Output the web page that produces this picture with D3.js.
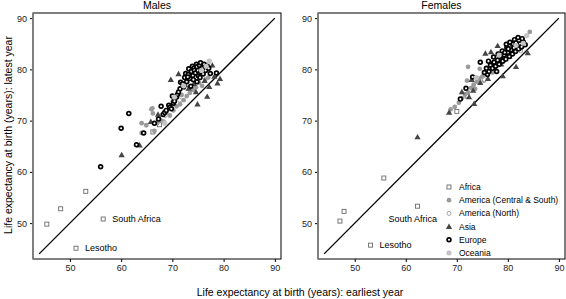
<!DOCTYPE html>
<html lang="en">
<head>
<meta charset="UTF-8">
<title>Life expectancy: earliest vs latest year</title>
<style>
    body { margin: 0; background: #fff; }
    svg { display: block; font-family: "Liberation Sans", Arial, sans-serif; }
</style>
</head>
<body>
<script src="https://d3js.org/d3.v7.min.js"></script>
<script>
const regions = ['Africa', 'America (Central & South)', 'America (North)', 'Asia', 'Europe', 'Oceania']
const tickValues = [50, 60, 70, 80, 90]
const panelTitles = ['Males', 'Females']

// each point: [earliest year, latest year]
const maleAfrica = [[45.5, 49.8], [48.2, 52.8], [53.1, 56.2], [56.5, 50.8], [51.2, 45.1], [66.2, 67.8], [67.5, 69.2]]
const maleCentralSouth = [[64, 67.6], [64.9, 69.1], [66.1, 72.4], [66.2, 71.4], [64, 69.5], [65.9, 72.2],
    [66.5, 68], [67, 69.5], [67.8, 70], [68.3, 69.8], [68.8, 71.5], [69.5, 71], [70.2, 72], [70.8, 72.8],
    [71.5, 73.2], [72.2, 74], [72.8, 74.8], [73.4, 75.4], [74, 76], [74.6, 76.5], [75.2, 77.4],
    [75.8, 76.8], [76.4, 78], [77, 78.4], [73, 76.3], [71.8, 75]]
const maleNorth = [[68.6, 71], [69.8, 72.6], [71.4, 74], [72.6, 76.4]]
const maleAsia = [[60.1, 63.3], [63.6, 65.2], [65.8, 69.8], [67.2, 71.2], [69.7, 78], [71.2, 79.1],
    [72.5, 77], [73.2, 76.3], [74.2, 77.2], [74.9, 73.2], [76.8, 74.7], [76.3, 77.8], [77.2, 76.6],
    [78.2, 78.6], [79.3, 78.2], [77.8, 80.8], [75.4, 80.6], [70.2, 74.2], [74.6, 75.6], [78.8, 77.3]]
const maleEurope = [[56, 61], [60, 68.5], [61.5, 71.4], [63, 65.3], [64.4, 67.6],
    [66.5, 69.5], [67.3, 70.3], [67.8, 72.8], [68.2, 71.2], [68.5, 71.6], [68.8, 72], [69.3, 73],
    [69.5, 72.6], [69.8, 72.3], [70, 74.8], [70.2, 73.4], [70.4, 73.8], [70.8, 74.6], [71, 75.1],
    [71.2, 75.6], [71.6, 77.5], [71.5, 76.2], [72, 77.2], [72.2, 76.6], [72.4, 78.4], [72.6, 79.2],
    [72.8, 77.6], [73.1, 79], [73.2, 80.1], [73.4, 78.2], [73.7, 79.6], [73.9, 80.6], [74, 78.8],
    [74.2, 80.2], [74.3, 79.8], [74.5, 79.3], [74.7, 81], [74.8, 80.5], [75, 79.8], [75.1, 78.7],
    [75.3, 80.8], [75.5, 81.3], [75.6, 79.6], [75.9, 80.3], [76, 79.1], [76.2, 81], [76.4, 80.4],
    [76.5, 79.8], [76.8, 80.6], [77.1, 80.2], [77.4, 79.2], [78.6, 79.3], [73.6, 76.7], [74.8, 77.6],
    [73, 78.5], [74.1, 78], [75.4, 78.4]]
const maleOceania = [[70.4, 74.6], [72.2, 76.8], [76.6, 80.6], [77.2, 81.6], [75.7, 79.8], [68.5, 69.5]]

const femaleAfrica = [[47.1, 50.4], [47.9, 52.3], [55.7, 58.8], [62.3, 53.3], [53.1, 45.7], [70, 71.8], [72, 74.8]]
const femaleCentralSouth = [[68.8, 72.2], [69.6, 72.7], [70.4, 73.5], [71, 74.4], [71.6, 75.1],
    [72.2, 75.5], [72.8, 76.4], [73.3, 77], [73.9, 77.6], [74.4, 78.2], [75, 78.6], [75.6, 79.2],
    [76.2, 79.8], [76.8, 80.4], [77.4, 81], [78, 80.8], [78.6, 81.6], [79.2, 82.2], [72, 77.8],
    [74.5, 80.1], [72.2, 80.5], [84.3, 87.3], [73.6, 76.2], [75.3, 77.8], [77, 79.4]]
const femaleNorth = [[75.4, 78], [77.5, 80.4], [79.2, 81.7], [82.5, 83.6]]
const femaleAsia = [[62.3, 66.8], [68.5, 71.6], [71, 75.6], [72.4, 74.6], [73.2, 75.9], [73.4, 73.3],
    [72.9, 78], [75.6, 83.1], [76.7, 83.4], [78, 84.6], [79, 78.7], [81.6, 80.5], [83.9, 83.2],
    [80.3, 82.5], [77.3, 80.6], [78.7, 81], [82.3, 84.2], [74.6, 77.4], [76.1, 78.2], [80.8, 84.8]]
const femaleEurope = [[70.7, 74.2], [73.1, 78.5], [74.6, 81.4], [76.9, 81.1], [76, 79], [71.8, 76.3],
    [75.4, 79.4], [75.8, 80.2], [76.3, 79.6], [76.6, 80.8], [77, 80.2], [77.3, 81.4], [77.6, 80.6],
    [78, 81.8], [78.3, 81], [78.6, 82.4], [79, 81.6], [79.3, 82.8], [79.6, 82], [80, 83.3],
    [80.3, 82.5], [80.6, 83.8], [80.9, 83], [81.2, 84.2], [81.5, 83.5], [81.8, 84.6], [82.1, 84],
    [82.4, 85], [82.7, 84.4], [83, 85.4], [83.4, 84.8], [77.8, 79.6], [79.8, 84.2], [81, 85],
    [77.2, 82.4], [78.1, 83], [78.9, 83.6], [79.7, 84.9], [80.4, 85.3], [81.3, 85.8], [82, 86.2],
    [82.8, 86], [80.1, 84], [81.6, 85.2], [76.2, 81.6], [78.4, 82.6], [79.4, 83.3]]
const femaleOceania = [[81.6, 84.7], [83, 85.1], [83.7, 86.6], [78.3, 82.8], [73.8, 78.4]]

const maleData = [maleAfrica, maleCentralSouth, maleNorth, maleAsia, maleEurope, maleOceania]
const femaleData = [femaleAfrica, femaleCentralSouth, femaleNorth, femaleAsia, femaleEurope, femaleOceania]

// labelled points: [panel, earliest, latest, name]
const labelled = [
    [0, 56.5, 50.8, 'South Africa'], [0, 51.2, 45.1, 'Lesotho'],
    [1, 62.3, 53.3, 'South Africa'], [1, 53.1, 45.7, 'Lesotho']
]

const width = 566
const height = 299
const panels = [{ left: 33, right: 281 }, { left: 318, right: 565 }]
const plotTop = 13
const plotBottom = 259

const styles = [
    { shape: 'square', fill: '#fff', stroke: '#6a6a6a', sw: 0.9 },
    { shape: 'circle', fill: '#9a9a9a', stroke: 'none', sw: 0, r: 2.4 },
    { shape: 'circle', fill: '#fff', stroke: '#9a9a9a', sw: 0.9, r: 2 },
    { shape: 'triangle', fill: '#454545', stroke: 'none', sw: 0 },
    { shape: 'circle', fill: '#fff', stroke: '#000', sw: 1.7, r: 1.9 },
    { shape: 'circle', fill: '#c4c4c4', stroke: 'none', sw: 0, r: 2.6 }
]

const svg = d3.select('body').append('svg')
    .attr('width', width)
    .attr('height', height)

function marker(g, style, x, y) {
    if (style.shape === 'square') {
        g.append('rect')
            .attr('x', x - 2).attr('y', y - 2)
            .attr('width', 4).attr('height', 4)
            .attr('fill', style.fill).attr('stroke', style.stroke).attr('stroke-width', style.sw)
    } else if (style.shape === 'triangle') {
        g.append('path')
            .attr('d', d3.symbol(d3.symbolTriangle, 17)())
            .attr('transform', `translate(${x},${y + 0.5})`)
            .attr('fill', style.fill)
    } else {
        g.append('circle')
            .attr('cx', x).attr('cy', y).attr('r', style.r)
            .attr('fill', style.fill).attr('stroke', style.stroke).attr('stroke-width', style.sw)
    }
}

panels.forEach((p, pi) => {
    const x = d3.scaleLinear().domain([42.8, 91.2]).range([p.left, p.right])
    const y = d3.scaleLinear().domain([43, 91]).range([plotBottom, plotTop])
    const g = svg.append('g')

    g.append('rect')
        .attr('x', p.left).attr('y', plotTop)
        .attr('width', p.right - p.left).attr('height', plotBottom - plotTop)
        .attr('fill', 'none').attr('stroke', '#000').attr('stroke-width', 1)

    const xAxis = g.append('g')
        .attr('transform', `translate(0,${plotBottom})`)
        .call(d3.axisBottom(x).tickValues(tickValues).tickSize(3).tickPadding(3))
    const yAxis = g.append('g')
        .attr('transform', `translate(${p.left},0)`)
        .call(d3.axisLeft(y).tickValues(tickValues).tickSize(3).tickPadding(3))
    ;[xAxis, yAxis].forEach(a => {
        a.select('.domain').remove()
        a.selectAll('text').attr('font-size', 9).attr('fill', '#222')
            .attr('font-family', '"Liberation Sans", Arial, sans-serif')
    })
    // y axis line in grey, as in the original
    g.append('line')
        .attr('x1', p.left).attr('x2', p.left)
        .attr('y1', plotTop).attr('y2', plotBottom)
        .attr('stroke', '#808080').attr('stroke-width', 1.8)

    // line of equality
    g.append('line')
        .attr('x1', x(44)).attr('y1', y(44))
        .attr('x2', x(90)).attr('y2', y(90))
        .attr('stroke', '#000').attr('stroke-width', 1.3)

    const data = pi === 0 ? maleData : femaleData
    data.forEach((series, si) => {
        const mg = g.append('g')
        series.forEach(d => marker(mg, styles[si], x(d[0]), y(d[1])))
    })

    labelled.filter(l => l[0] === pi).forEach(l => {
        let tx = x(l[1]) + 9
        let ty = y(l[2]) + 3
        if (pi === 1 && l[3] === 'South Africa') {
            tx = x(l[1]) - 29
            ty = y(l[2]) + 16
        }
        g.append('text')
            .attr('x', tx).attr('y', ty)
            .attr('font-size', 9)
            .text(l[3])
    })

    g.append('text')
        .attr('x', (p.left + p.right) / 2).attr('y', 9)
        .attr('text-anchor', 'middle')
        .attr('font-size', 10.5)
        .text(panelTitles[pi])
})

// legend inside the female panel
const legend = svg.append('g').attr('transform', 'translate(449,187)')
regions.forEach((r, i) => {
    marker(legend, styles[i], 0, i * 13.2)
    legend.append('text')
        .attr('x', 10).attr('y', i * 13.2 + 3)
        .attr('font-size', 8.5)
        .text(r)
})

svg.append('text')
    .attr('x', 300).attr('y', 296)
    .attr('text-anchor', 'middle')
    .attr('font-size', 10.5)
    .text('Life expectancy at birth (years): earliest year')

svg.append('text')
    .attr('transform', 'translate(12,135) rotate(-90)')
    .attr('text-anchor', 'middle')
    .attr('font-size', 10.5)
    .text('Life expectancy at birth (years): latest year')
</script>
</body>
</html>
